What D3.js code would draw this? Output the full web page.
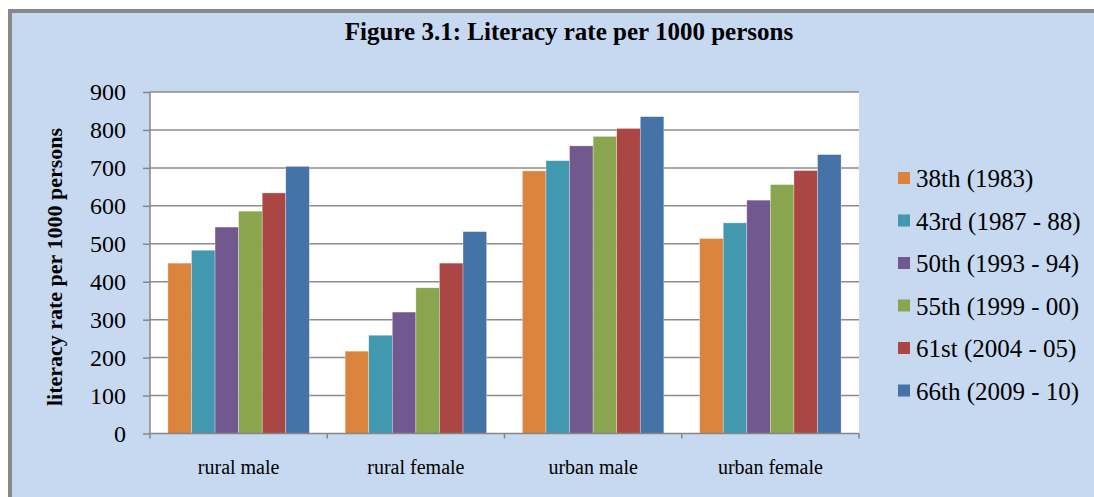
<!DOCTYPE html>
<html><head><meta charset="utf-8">
<script src="https://cdn.jsdelivr.net/npm/d3@7"></script>
<style>html,body{margin:0;padding:0;background:#fff;} svg{display:block;}</style>
</head><body>
<svg id="c" width="1094" height="497"></svg>
<script>
const categories = ["rural male", "rural female", "urban male", "urban female"];
const seriesNames = ["38th (1983)", "43rd (1987 - 88)", "50th (1993 - 94)", "55th (1999 - 00)", "61st (2004 - 05)", "66th (2009 - 10)"];
const s38 = [449, 217, 692, 514];
const s43 = [483, 259, 719, 555];
const s50 = [544, 320, 758, 615];
const s55 = [586, 384, 783, 656];
const s61 = [634, 449, 804, 693];
const s66 = [704, 532, 835, 735];
const yTicks = [0, 100, 200, 300, 400, 500, 600, 700, 800, 900];
const colors = ["#DB843D", "#4198AF", "#71588F", "#89A54E", "#AA4643", "#4572A7"];
const seriesValues = [s38, s43, s50, s55, s61, s66];

const svg = d3.select("#c");
const font = "'Liberation Serif','Times New Roman',serif";

// outer frame
svg.append("rect").attr("x", 10).attr("y", 11).attr("width", 1094).attr("height", 497)
  .attr("fill", "#C6D9F0").attr("stroke", "#888888").attr("stroke-width", 4);

const L = 150, R = 859, T = 92, B = 433.5;
const x0 = d3.scaleBand().domain(categories).range([L, R]).padding(0);
const inner = x0.bandwidth() * 0.101;
const x1 = d3.scaleBand().domain(d3.range(seriesNames.length)).range([inner, x0.bandwidth() - inner]).padding(0);
const y = d3.scaleLinear().domain([0, 900]).range([B, T]);

svg.append("rect").attr("x", L).attr("y", T).attr("width", R - L).attr("height", B - T).attr("fill", "#fff");

// gridlines
svg.append("g").selectAll("line").data(yTicks.filter(d => d > 0)).join("line")
  .attr("x1", L).attr("x2", R).attr("y1", d => y(d)).attr("y2", d => y(d))
  .attr("stroke", "#8c8c8c").attr("stroke-width", 1.5);

// bars
const g = svg.append("g");
categories.forEach((c, ci) => {
  seriesValues.forEach((vals, si) => {
    g.append("rect")
      .attr("x", x0(c) + x1(si)).attr("width", x1.bandwidth())
      .attr("y", y(vals[ci])).attr("height", y(0) - y(vals[ci]))
      .attr("fill", colors[si]).attr("stroke", "#fff").attr("stroke-opacity", 0.5).attr("stroke-width", 0.6);
  });
});

// y axis
const yAxis = d3.axisLeft(y).tickValues(yTicks).tickSize(7).tickPadding(17).tickFormat(d3.format("d"));
const ya = svg.append("g").attr("transform", `translate(${L},0)`).call(yAxis);
ya.select(".domain").attr("stroke", "#868686").attr("stroke-width", 1.5).attr("d", `M0,${T}V${B}`);
ya.selectAll(".tick line").attr("stroke", "#868686").attr("stroke-width", 1.5);
ya.selectAll("text").attr("font-family", font).attr("font-size", 24).attr("fill", "#000");

// x axis
const xa = svg.append("g").attr("transform", `translate(0,${B})`);
xa.append("line").attr("x1", L).attr("x2", R).attr("stroke", "#868686").attr("stroke-width", 1.5);
const bounds = categories.map(c => x0(c)).concat([R]);
xa.selectAll("line.tk").data(bounds).join("line").attr("class", "tk")
  .attr("x1", d => d).attr("x2", d => d).attr("y1", 0).attr("y2", 5)
  .attr("stroke", "#868686").attr("stroke-width", 1.5);
xa.selectAll("text").data(categories).join("text")
  .attr("x", d => x0(d) + x0.bandwidth() / 2).attr("y", 40)
  .attr("text-anchor", "middle").attr("font-family", font).attr("font-size", 20).attr("fill", "#000")
  .text(d => d);

// title
svg.append("text").attr("x", 569).attr("y", 40).attr("text-anchor", "middle")
  .attr("font-family", font).attr("font-size", 25).attr("font-weight", "bold").text("Figure 3.1: Literacy rate per 1000 persons");

// y label
svg.append("text").attr("transform", "translate(62,267) rotate(-90)").attr("text-anchor", "middle")
  .attr("font-family", font).attr("font-size", 22).attr("font-weight", "bold").text("literacy rate per 1000 persons");

// legend
const lg = svg.append("g").attr("transform", "translate(898,178)");
seriesNames.forEach((n, i) => {
  const row = lg.append("g").attr("transform", `translate(0,${i * 42.5})`);
  row.append("rect").attr("x", 0).attr("y", -6).attr("width", 12).attr("height", 12).attr("fill", colors[i]);
  row.append("text").attr("x", 18).attr("y", 9).attr("font-family", font).attr("font-size", 25).attr("fill", "#000").text(n);
});
</script>
</body></html>
